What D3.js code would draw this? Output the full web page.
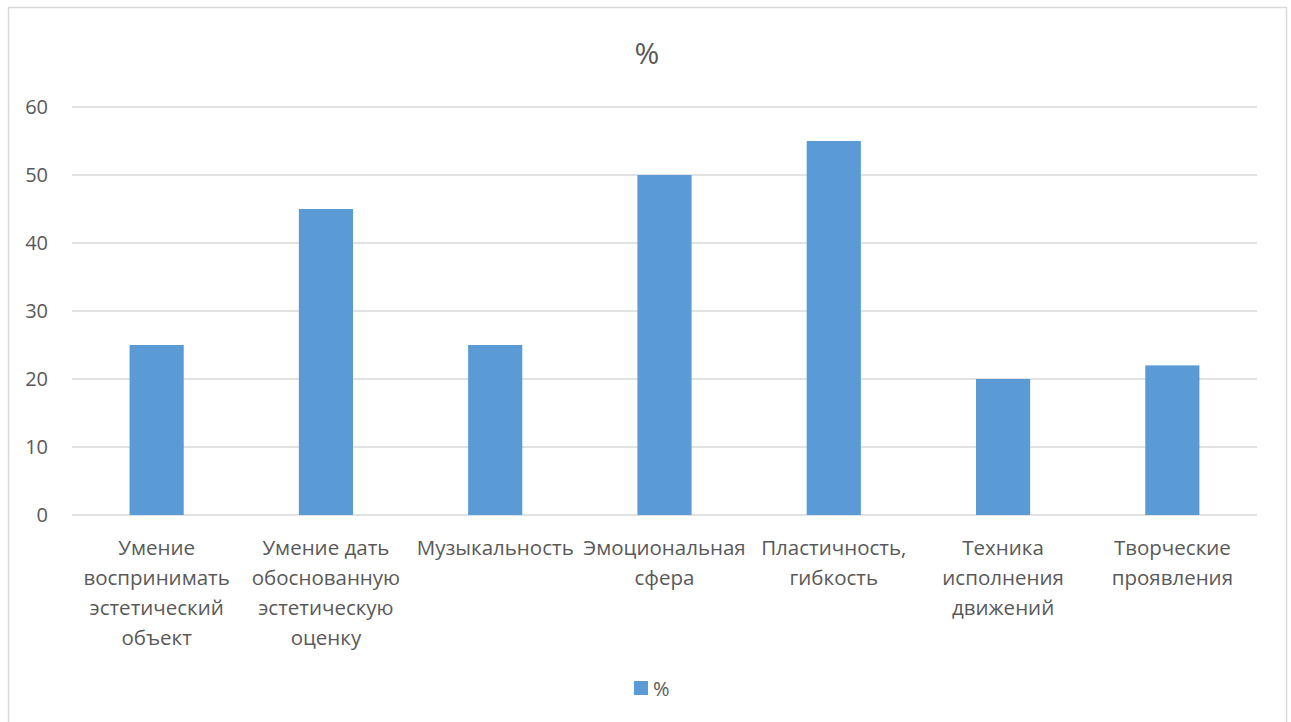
<!DOCTYPE html>
<html>
<head>
<meta charset="utf-8">
<script src="https://cdn.jsdelivr.net/npm/d3@7"></script>
<style>
  body { margin: 0; background: #fff; }
  text { font-family: "Open Sans", sans-serif; fill: #595959; }
</style>
</head>
<body>
<svg id="chart"></svg>
<script>
const categories = [
  ["Умение", "воспринимать", "эстетический", "объект"],
  ["Умение дать", "обоснованную", "эстетическую", "оценку"],
  ["Музыкальность"],
  ["Эмоциональная", "сфера"],
  ["Пластичность,", "гибкость"],
  ["Техника", "исполнения", "движений"],
  ["Творческие", "проявления"]
];
const values = [25, 45, 25, 50, 55, 20, 22];
const yTicks = [0, 10, 20, 30, 40, 50, 60];
const seriesName = "%";

const W = 1291, H = 722;
const margin = { top: 107, right: 34, bottom: 207, left: 72 };
const width = W - margin.left - margin.right;
const height = H - margin.top - margin.bottom;

const svg = d3.select("#chart").attr("width", W).attr("height", H);

// outer chart border
svg.append("rect")
  .attr("x", 8.5).attr("y", 7.5)
  .attr("width", 1278).attr("height", 730)
  .attr("fill", "#fff")
  .attr("stroke", "#d9d9d9")
  .attr("stroke-width", 1.5);

svg.append("text")
  .attr("x", 647).attr("y", 64)
  .attr("text-anchor", "middle")
  .style("font-size", "30px")
  .text(seriesName);

const g = svg.append("g").attr("transform", `translate(${margin.left},${margin.top})`);

const x = d3.scaleBand().domain(d3.range(values.length)).range([0, width]).paddingInner(0.68).paddingOuter(0.34);
const y = d3.scaleLinear().domain([0, 60]).range([height, 0]);

// gridlines
g.selectAll(".grid").data(yTicks).join("line")
  .attr("x1", 0).attr("x2", width)
  .attr("y1", d => y(d)).attr("y2", d => y(d))
  .attr("stroke", "#d9d9d9").attr("stroke-width", 1.5);

// y labels
g.selectAll(".ylab").data(yTicks).join("text")
  .attr("x", -24).attr("y", d => y(d))
  .attr("dy", "0.35em")
  .attr("text-anchor", "end")
  .style("font-size", "20px")
  .text(d => d);

g.selectAll(".bar").data(values).join("rect")
  .attr("x", (d, i) => x(i))
  .attr("y", d => y(d))
  .attr("width", x.bandwidth())
  .attr("height", d => height - y(d))
  .attr("fill", "#5b9bd5");

// category labels
categories.forEach((lines, i) => {
  const t = g.append("text")
    .attr("text-anchor", "middle")
    .style("font-size", "20.5px");
  lines.forEach((ln, j) => {
    t.append("tspan")
      .attr("x", x(i) + x.bandwidth() / 2)
      .attr("y", height + 40 + j * 30)
      .text(ln);
  });
});

// legend
svg.append("rect").attr("x", 634).attr("y", 681).attr("width", 14).attr("height", 14).attr("fill", "#5b9bd5");
svg.append("text").attr("x", 653).attr("y", 696).style("font-size", "20px").text(seriesName);
</script>
</body>
</html>
